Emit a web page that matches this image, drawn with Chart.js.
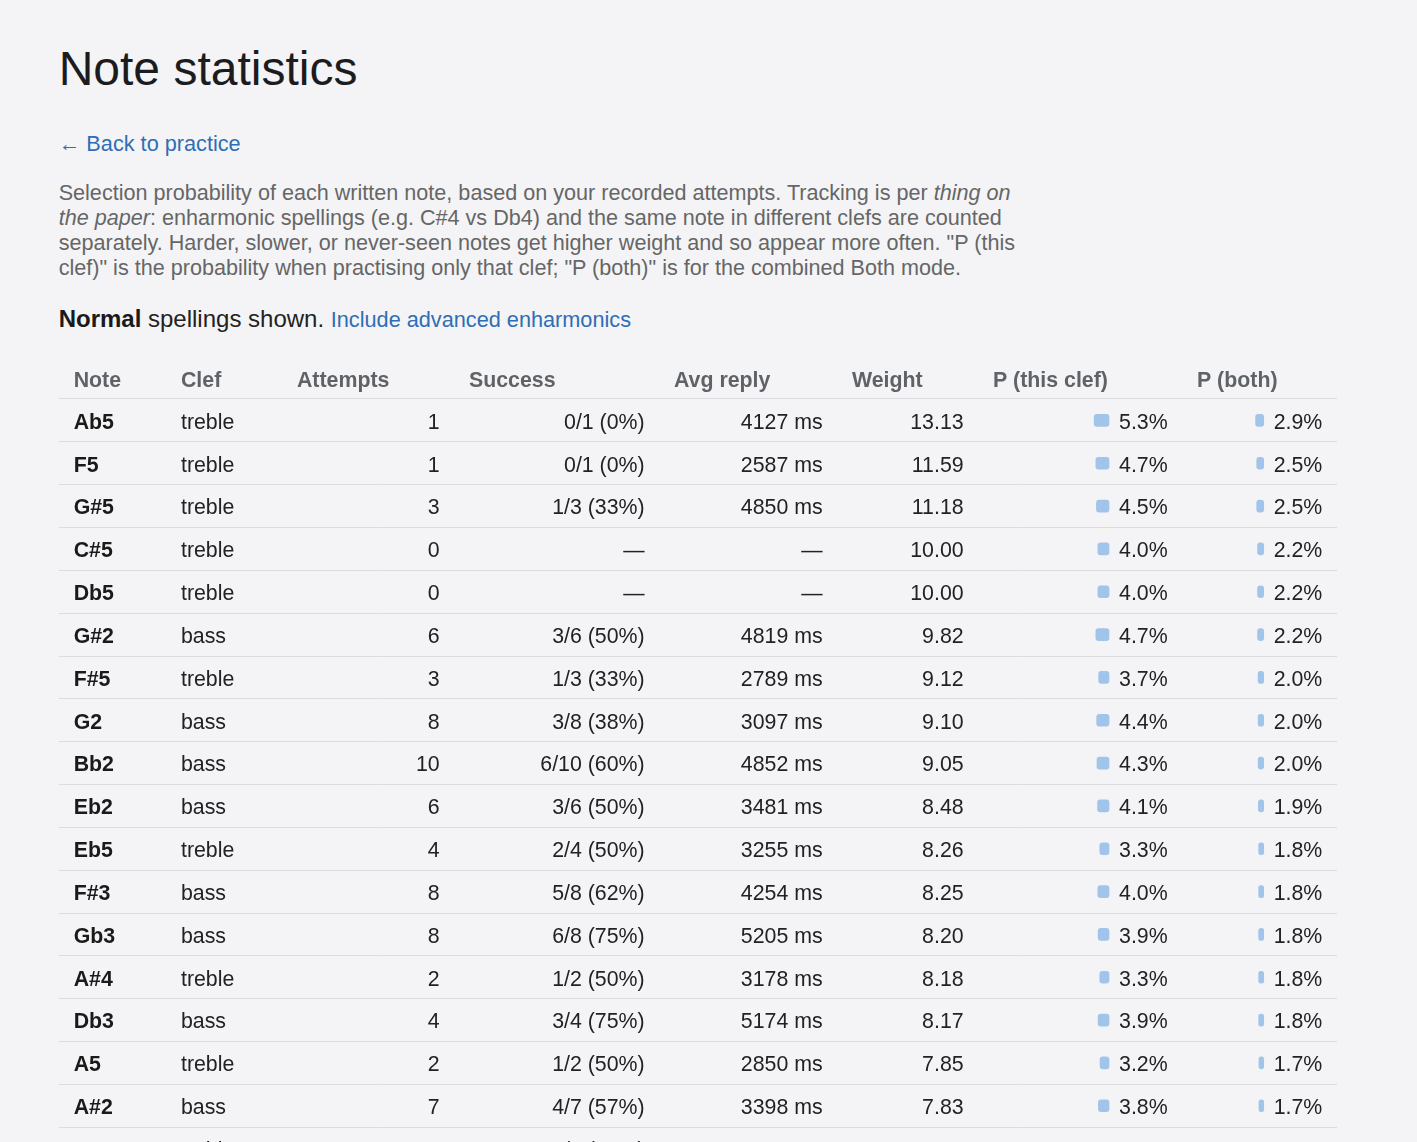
<!DOCTYPE html>
<html>
<head>
<meta charset="utf-8">
<title>Note statistics</title>
<script src="https://cdn.jsdelivr.net/npm/chart.js@4.4.1/dist/chart.umd.min.js"></script>
<style>
  html, body { margin: 0; padding: 0; overflow: hidden; background: #f4f4f6; }
  body { font-family: 'Liberation Sans', Arial, sans-serif; color: #222; font-size: 21.33px; }
  .page { position: relative; width: 1417px; height: 1142px; }
  .page > * { position: absolute; left: 58.67px; margin: 0; }
  h1 { top: 41.4px; font-size: 48px; line-height: 56px; font-weight: normal; color: #1c1c1e; }
  a { color: #2f6db5; text-decoration: none; }
  .back { top: 131px; font-size: 21.7px; line-height: 25px; }
  .intro { top: 180px; width: 970px; font-size: 21.6px; line-height: 25px; color: #666; }
  .mode { top: 306.2px; font-size: 24px; line-height: 25px; color: #222; }
  .mode strong { color: #1a1a1a; }
  .mode a { font-size: 21.7px; }
  #table-chart { left: 59px; top: 350px; }
</style>
</head>
<body>
<div class="page">
  <h1>Note statistics</h1>
  <a class="back" href="#">← Back to practice</a>
  <p class="intro">Selection probability of each written note, based on your recorded attempts. Tracking is per <em>thing on the paper</em>: enharmonic spellings (e.g. C#4 vs Db4) and the same note in different clefs are counted separately. Harder, slower, or never-seen notes get higher weight and so appear more often. "P (this clef)" is the probability when practising only that clef; "P (both)" is for the combined Both mode.</p>
  <p class="mode"><strong>Normal</strong> spellings shown. <a href="#">Include advanced enharmonics</a></p>
  <canvas id="table-chart" width="1278" height="820"></canvas>
</div>
<script>
// table rows
const notes = ['Ab5', 'F5', 'G#5', 'C#5', 'Db5', 'G#2', 'F#5', 'G2', 'Bb2', 'Eb2', 'Eb5', 'F#3', 'Gb3', 'A#4', 'Db3', 'A5', 'A#2', 'E5'];
const clefs = ['treble', 'treble', 'treble', 'treble', 'treble', 'bass', 'treble', 'bass', 'bass', 'bass', 'treble', 'bass', 'bass', 'treble', 'bass', 'treble', 'bass', 'treble'];
const attempts = [1, 1, 3, 0, 0, 6, 3, 8, 10, 6, 4, 8, 8, 2, 4, 2, 7, 2];
const correct = [0, 0, 1, 0, 0, 3, 1, 3, 6, 3, 2, 5, 6, 1, 3, 1, 4, 1];
const avgReplyMs = [4127, 2587, 4850, null, null, 4819, 2789, 3097, 4852, 3481, 3255, 4254, 5205, 3178, 5174, 2850, 3398, 3013];
const weights = [13.13, 11.59, 11.18, 10.00, 10.00, 9.82, 9.12, 9.10, 9.05, 8.48, 8.26, 8.25, 8.20, 8.18, 8.17, 7.85, 7.83, 7.61];
const pThisClef = [5.3, 4.7, 4.5, 4.0, 4.0, 4.7, 3.7, 4.4, 4.3, 4.1, 3.3, 4.0, 3.9, 3.3, 3.9, 3.2, 3.8, 3.1];
const pBoth = [2.9, 2.5, 2.5, 2.2, 2.2, 2.2, 2.0, 2.0, 2.0, 1.9, 1.8, 1.8, 1.8, 1.8, 1.8, 1.7, 1.7, 1.7];

// columns
const colKeys = ['note', 'clef', 'attempts', 'success', 'avg', 'weight', 'pClef', 'pBoth'];
const colHeaders = ['Note', 'Clef', 'Attempts', 'Success', 'Avg reply', 'Weight', 'P (this clef)', 'P (both)'];
const colWidths = [107.3, 116, 172, 205, 178, 141, 204, 154.7];
const colAlign = ['left', 'left', 'right', 'right', 'right', 'right', 'right', 'right'];

const FONT = "'Liberation Sans', Arial, sans-serif";
const CELL_PAD = 14.67;
const BAR_GAP = 10;
const PX_PER_PCT = 2.8;
const BAR_COLOR = '#a0c4ea';

function roundHalfEven(x) {
  const f = Math.floor(x);
  if (Math.abs(x - f - 0.5) < 1e-9) return f % 2 === 0 ? f : f + 1;
  return Math.round(x);
}

function successText(i) {
  if (!attempts[i]) return '—';
  return correct[i] + '/' + attempts[i] + ' (' + roundHalfEven(100 * correct[i] / attempts[i]) + '%)';
}

function cellText(key, i) {
  switch (key) {
    case 'note': return notes[i];
    case 'clef': return clefs[i];
    case 'attempts': return String(attempts[i]);
    case 'success': return successText(i);
    case 'avg': return avgReplyMs[i] == null ? '—' : avgReplyMs[i] + ' ms';
    case 'weight': return weights[i].toFixed(2);
    case 'pClef': return pThisClef[i].toFixed(1) + '%';
    case 'pBoth': return pBoth[i].toFixed(1) + '%';
  }
  return '';
}

// width of a "x.x%" label, so the bars end just before the text
const measureCtx = document.createElement('canvas').getContext('2d');
measureCtx.font = '21.33px ' + FONT;
const pctWidth = measureCtx.measureText('5.3%').width;
const barInset = CELL_PAD + pctWidth + BAR_GAP;

const scales = {
  y: {
    type: 'category',
    position: 'left',
    offset: true,
    ticks: { display: false },
    grid: { offset: true, color: '#dcdce0', lineWidth: 1, drawTicks: false },
    border: { display: false },
  },
};

colKeys.forEach((key, i) => {
  const scale = {
    type: 'linear',
    position: 'bottom',
    stack: 'cols',
    stackWeight: colWidths[i],
    weight: i,
    min: 0,
    max: 1,
    ticks: { display: false },
    grid: { display: false, drawTicks: false },
    border: { display: false },
  };
  if (key === 'pClef' || key === 'pBoth') {
    scale.reverse = true;
    scale.min = -barInset / PX_PER_PCT;
    scale.max = (colWidths[i] - barInset) / PX_PER_PCT;
  }
  scales[key] = scale;
});

const tableText = {
  id: 'tableText',
  afterDraw(chart) {
    const ctx = chart.ctx;
    const yScale = chart.scales.y;
    const top = chart.chartArea.top;
    ctx.save();
    ctx.textBaseline = 'alphabetic';

    // header row
    ctx.font = 'bold 21.33px ' + FONT;
    ctx.fillStyle = '#5f6368';
    ctx.textAlign = 'left';
    colKeys.forEach((key, c) => {
      ctx.fillText(colHeaders[c], chart.scales[key].left + CELL_PAD, top - 12.3);
    });

    // body rows
    notes.forEach((n, i) => {
      const y = yScale.getPixelForValue(i) + 8.4;
      colKeys.forEach((key, c) => {
        const s = chart.scales[key];
        ctx.font = (key === 'note' ? 'bold ' : '') + '21.33px ' + FONT;
        ctx.fillStyle = key === 'note' ? '#1a1a1a' : '#222';
        if (colAlign[c] === 'left') {
          ctx.textAlign = 'left';
          ctx.fillText(cellText(key, i), s.left + CELL_PAD, y);
        } else {
          ctx.textAlign = 'right';
          ctx.fillText(cellText(key, i), s.right - CELL_PAD, y);
        }
      });
    });
    ctx.restore();
  }
};

const tableChart = new Chart(
  document.getElementById('table-chart'), {
  type: 'bar',
  data: {
    labels: notes,
    datasets: [
      {
        label: 'P (this clef)',
        data: pThisClef,
        xAxisID: 'pClef',
        yAxisID: 'y',
        grouped: false,
        backgroundColor: BAR_COLOR,
        borderRadius: 3,
        borderSkipped: false,
        barThickness: 12,
      },
      {
        label: 'P (both)',
        data: pBoth,
        xAxisID: 'pBoth',
        yAxisID: 'y',
        grouped: false,
        backgroundColor: BAR_COLOR,
        borderRadius: 3,
        borderSkipped: false,
        barThickness: 12,
      },
    ]
  },
  options: {
    indexAxis: 'y',
    responsive: false,
    animation: false,
    layout: { padding: { top: 49, left: 0, right: 0, bottom: 0 } },
    plugins: {
      legend: { display: false },
      tooltip: { enabled: false },
    },
    scales: scales,
  },
  plugins: [tableText]
});
</script>
</body>
</html>
